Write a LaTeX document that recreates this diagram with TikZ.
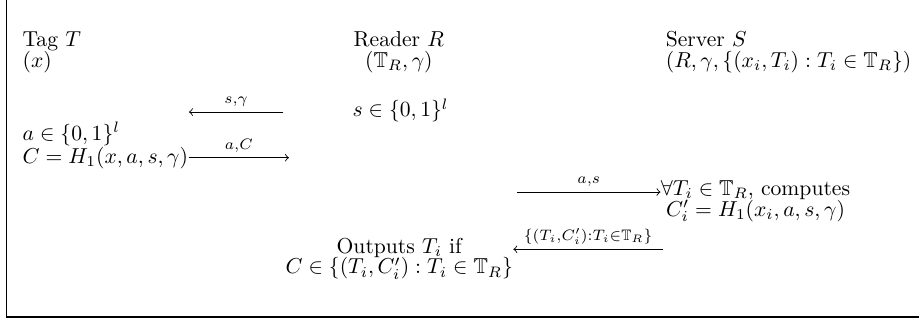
\documentclass[tikz,border=0pt]{standalone}
\usepackage{amsmath,amssymb}
\usepackage{tikz}

\begin{document}
\begin{tikzpicture}[
  txt/.style={inner sep=0pt},
  party/.style={inner sep=0pt,align=left},
  msg/.style={->,line width=0.4pt},
  lbl/.style={inner sep=0pt,anchor=base,yshift=4pt},
  frame/.style={draw=black,line width=0.6pt},
]
\useasboundingbox (0,0) rectangle (14.93,-5.25);
\draw[frame] (0.11,0) -- (0.11,-5.15) -- (14.93,-5.15);

\node[party,anchor=base west] (tag) at (0.36,-1.09) {Tag $T$\\[-2.5pt]$(x)$};
\node[txt,align=center,anchor=base] (reader) at (6.48,-1.09) {Reader $R$\\[-2.5pt]$(\mathbb{T}_R,\gamma)$};
\node[party,anchor=base west] (server) at (10.81,-1.09) {Server $S$\\[-2.5pt]$(R,\gamma,\{(x_i,T_i):T_i\in\mathbb{T}_R\})$};

\coordinate (sgfrom) at (4.60,-1.82);
\coordinate (sgto) at (3.07,-1.82);
\draw[msg] (sgfrom) -- node[lbl] {$\scriptstyle s,\gamma$} (sgto);
\node[txt,anchor=base west] (rdrnonce) at (5.72,-1.90) {$s\in\{0,1\}^l$};

\node[txt,anchor=base west] (tagnonce) at (0.36,-2.28) {$a\in\{0,1\}^l$};
\node[txt,anchor=base west] (taghash) at (0.36,-2.65) {$C=H_1(x,a,s,\gamma)$};
\coordinate (acto) at ([xshift=1.63cm]taghash.east);
\draw[msg] (taghash.east) -- node[lbl] {$\scriptstyle a,C$} (acto);

\node[txt,align=center,anchor=base west] (srvcomp) at (10.73,-3.51) {$\forall T_i\in\mathbb{T}_R$, computes\\[-2.5pt]$C'_i=H_1(x_i,a,s,\gamma)$};
\coordinate (asfrom) at (8.40,-3.12);
\draw[msg] (asfrom) -- node[lbl] {$\scriptstyle a,s$} (asfrom -| srvcomp.west);

\node[txt,align=center,anchor=base east] (rdrout) at (8.34,-4.45) {Outputs $T_i$ if\\[-2.5pt]$C\in\{(T_i,C'_i):T_i\in\mathbb{T}_R\}$};
\coordinate (ctfrom) at (10.77,-4.05);
\draw[msg] (ctfrom) -- node[lbl] {$\scriptstyle\{(T_i,C'_i):T_i\in\mathbb{T}_R\}$} (ctfrom -| rdrout.east);
\end{tikzpicture}
\end{document}
